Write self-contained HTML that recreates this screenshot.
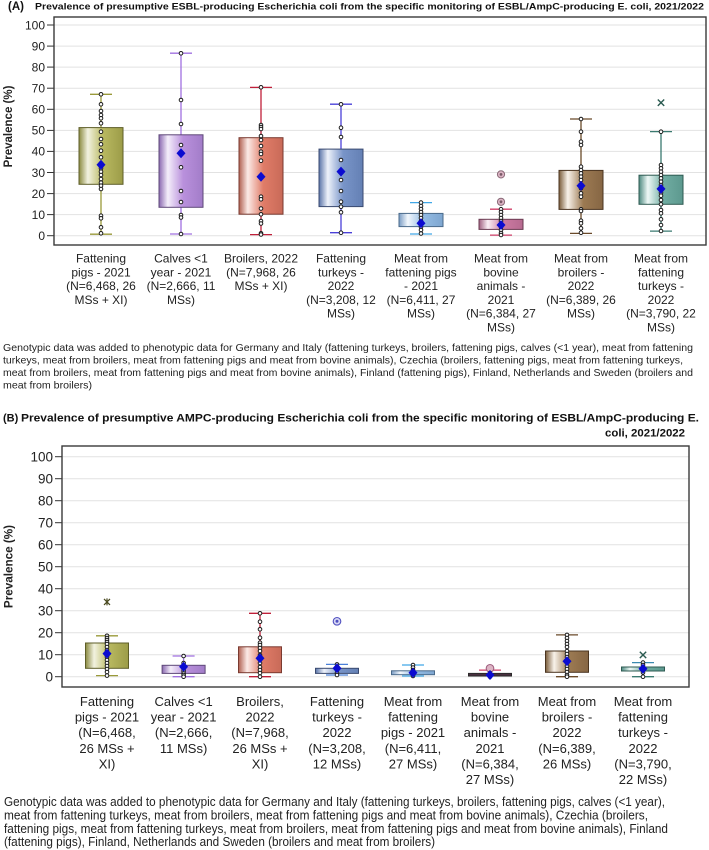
<!DOCTYPE html>
<html><head><meta charset="utf-8"><style>
html,body{margin:0;padding:0;background:#fff;}
svg{display:block;font-family:"Liberation Sans",Arial,sans-serif;}
.d circle{fill:#fff;stroke:#1a1a1a;stroke-width:1;}
.grid line{stroke:#e2e2e2;stroke-width:1;}
.tk line{stroke:#333;stroke-width:1;}
</style></head><body>
<svg width="709" height="850" viewBox="0 0 709 850" xmlns="http://www.w3.org/2000/svg">
<defs>
<linearGradient id="g1" x1="0" x2="1" y1="0" y2="0"><stop offset="0" stop-color="#8a8a40"/><stop offset="0.2" stop-color="#f2f2e0"/><stop offset="0.55" stop-color="#b8b860"/><stop offset="1" stop-color="#9c9c48"/></linearGradient>
<linearGradient id="g2" x1="0" x2="1" y1="0" y2="0"><stop offset="0" stop-color="#8a68b0"/><stop offset="0.2" stop-color="#f4eefa"/><stop offset="0.55" stop-color="#b990dc"/><stop offset="1" stop-color="#a27cc8"/></linearGradient>
<linearGradient id="g3" x1="0" x2="1" y1="0" y2="0"><stop offset="0" stop-color="#b06050"/><stop offset="0.2" stop-color="#fbeae6"/><stop offset="0.55" stop-color="#e07c68"/><stop offset="1" stop-color="#c86a58"/></linearGradient>
<linearGradient id="g4" x1="0" x2="1" y1="0" y2="0"><stop offset="0" stop-color="#5a74a8"/><stop offset="0.2" stop-color="#eef2fa"/><stop offset="0.55" stop-color="#7894c8"/><stop offset="1" stop-color="#6480b4"/></linearGradient>
<linearGradient id="g5" x1="0" x2="1" y1="0" y2="0"><stop offset="0" stop-color="#7a9cc4"/><stop offset="0.2" stop-color="#f2f7fc"/><stop offset="0.55" stop-color="#94bce4"/><stop offset="1" stop-color="#7ea6d0"/></linearGradient>
<linearGradient id="g6" x1="0" x2="1" y1="0" y2="0"><stop offset="0" stop-color="#a06080"/><stop offset="0.2" stop-color="#faeef4"/><stop offset="0.55" stop-color="#cc7aa2"/><stop offset="1" stop-color="#b66a90"/></linearGradient>
<linearGradient id="g7" x1="0" x2="1" y1="0" y2="0"><stop offset="0" stop-color="#7a5c3a"/><stop offset="0.2" stop-color="#f8f2ea"/><stop offset="0.55" stop-color="#9c7a52"/><stop offset="1" stop-color="#866644"/></linearGradient>
<linearGradient id="g8" x1="0" x2="1" y1="0" y2="0"><stop offset="0" stop-color="#4e8a80"/><stop offset="0.2" stop-color="#eef8f6"/><stop offset="0.55" stop-color="#70ada2"/><stop offset="1" stop-color="#5c988e"/></linearGradient>
</defs>

<!-- ================= PANEL A ================= -->
<text x="8" y="10" font-size="11.5" font-weight="bold" fill="#111">(A)</text>
<text x="35" y="9.5" font-size="9.5" font-weight="bold" fill="#111" textLength="669" lengthAdjust="spacingAndGlyphs">Prevalence of presumptive ESBL-producing Escherichia coli from the specific monitoring of ESBL/AmpC-producing E. coli, 2021/2022</text>

<g class="grid">
<line x1="54" x2="706" y1="235.7" y2="235.7"/><line x1="54" x2="706" y1="214.6" y2="214.6"/><line x1="54" x2="706" y1="193.6" y2="193.6"/><line x1="54" x2="706" y1="172.5" y2="172.5"/><line x1="54" x2="706" y1="151.4" y2="151.4"/><line x1="54" x2="706" y1="130.4" y2="130.4"/><line x1="54" x2="706" y1="109.3" y2="109.3"/><line x1="54" x2="706" y1="88.2" y2="88.2"/><line x1="54" x2="706" y1="67.1" y2="67.1"/><line x1="54" x2="706" y1="46.1" y2="46.1"/><line x1="54" x2="706" y1="25" y2="25"/>
</g>
<g class="tk">
<line x1="47" x2="54" y1="235.7" y2="235.7"/><line x1="47" x2="54" y1="214.6" y2="214.6"/><line x1="47" x2="54" y1="193.6" y2="193.6"/><line x1="47" x2="54" y1="172.5" y2="172.5"/><line x1="47" x2="54" y1="151.4" y2="151.4"/><line x1="47" x2="54" y1="130.4" y2="130.4"/><line x1="47" x2="54" y1="109.3" y2="109.3"/><line x1="47" x2="54" y1="88.2" y2="88.2"/><line x1="47" x2="54" y1="67.1" y2="67.1"/><line x1="47" x2="54" y1="46.1" y2="46.1"/><line x1="47" x2="54" y1="25" y2="25"/>
</g>
<g font-size="12" fill="#222" text-anchor="end">
<text x="45" y="240">0</text><text x="45" y="218.9">10</text><text x="45" y="197.9">20</text><text x="45" y="176.8">30</text><text x="45" y="155.7">40</text><text x="45" y="134.7">50</text><text x="45" y="113.6">60</text><text x="45" y="92.5">70</text><text x="45" y="71.4">80</text><text x="45" y="50.4">90</text><text x="45" y="29.3">100</text>
</g>
<text transform="translate(12,126.5) rotate(-90)" text-anchor="middle" font-size="11.5" font-weight="bold" fill="#222">Prevalence (%)</text>

<!-- A box 1 -->
<line x1="101" x2="101" y1="94.3" y2="234.2" stroke="#9a9a3a" stroke-width="1.3"/>
<line x1="90" x2="112" y1="94.3" y2="94.3" stroke="#9a9a3a" stroke-width="1.3"/>
<line x1="90" x2="112" y1="234.2" y2="234.2" stroke="#9a9a3a" stroke-width="1.3"/>
<rect x="79" y="127.6" width="44" height="56.7" fill="url(#g1)" stroke="#5e5e28" stroke-width="1"/>
<g class="d"><circle cx="101" cy="94.3" r="1.8"/><circle cx="101" cy="104.3" r="1.8"/><circle cx="101" cy="111" r="1.8"/><circle cx="101" cy="115" r="1.8"/><circle cx="101" cy="118.3" r="1.8"/><circle cx="101" cy="123.3" r="1.8"/><circle cx="101" cy="131.7" r="1.8"/><circle cx="101" cy="139" r="1.8"/><circle cx="101" cy="144.3" r="1.8"/><circle cx="101" cy="150.7" r="1.8"/><circle cx="101" cy="157.3" r="1.8"/><circle cx="101" cy="163.3" r="1.8"/><circle cx="101" cy="168.3" r="1.8"/><circle cx="101" cy="171.7" r="1.8"/><circle cx="101" cy="175" r="1.8"/><circle cx="101" cy="179" r="1.8"/><circle cx="101" cy="182.7" r="1.8"/><circle cx="101" cy="185.7" r="1.8"/><circle cx="101" cy="189" r="1.8"/><circle cx="101" cy="215.7" r="1.8"/><circle cx="101" cy="218.3" r="1.8"/><circle cx="101" cy="227.3" r="1.8"/><circle cx="101" cy="233.3" r="1.8"/></g>
<polygon points="101,159.7 105.5,164.7 101,169.7 96.5,164.7" fill="#0b0bd0"/>

<!-- A box 2 -->
<line x1="181" x2="181" y1="53.2" y2="234" stroke="#a070e0" stroke-width="1.3"/>
<line x1="170" x2="192" y1="53.2" y2="53.2" stroke="#a070e0" stroke-width="1.3"/>
<line x1="170" x2="192" y1="234" y2="234" stroke="#a070e0" stroke-width="1.3"/>
<rect x="159" y="134.8" width="44" height="72.5" fill="url(#g2)" stroke="#5e4878" stroke-width="1"/>
<g class="d"><circle cx="181" cy="53.3" r="1.8"/><circle cx="181" cy="100" r="1.8"/><circle cx="181" cy="124" r="1.8"/><circle cx="181" cy="145" r="1.8"/><circle cx="181" cy="167.3" r="1.8"/><circle cx="181" cy="191" r="1.8"/><circle cx="181" cy="202" r="1.8"/><circle cx="181" cy="215" r="1.8"/><circle cx="181" cy="217.5" r="1.8"/><circle cx="181" cy="234" r="1.8"/></g>
<polygon points="181,148.3 185.5,153.3 181,158.3 176.5,153.3" fill="#0b0bd0"/>

<!-- A box 3 -->
<line x1="261" x2="261" y1="87.4" y2="234.6" stroke="#c0203a" stroke-width="1.3"/>
<line x1="250" x2="272" y1="87.4" y2="87.4" stroke="#c0203a" stroke-width="1.3"/>
<line x1="250" x2="272" y1="234.6" y2="234.6" stroke="#c0203a" stroke-width="1.3"/>
<rect x="239" y="137.7" width="44" height="76.5" fill="url(#g3)" stroke="#7a3a30" stroke-width="1"/>
<g class="d"><circle cx="261" cy="87.3" r="1.8"/><circle cx="261" cy="125" r="1.8"/><circle cx="261" cy="127" r="1.8"/><circle cx="261" cy="129" r="1.8"/><circle cx="261" cy="136" r="1.8"/><circle cx="261" cy="140" r="1.8"/><circle cx="261" cy="146" r="1.8"/><circle cx="261" cy="151.7" r="1.8"/><circle cx="261" cy="154" r="1.8"/><circle cx="261" cy="160.7" r="1.8"/><circle cx="261" cy="196.7" r="1.8"/><circle cx="261" cy="199.3" r="1.8"/><circle cx="261" cy="208.5" r="1.8"/><circle cx="261" cy="214.3" r="1.8"/><circle cx="261" cy="221" r="1.8"/><circle cx="261" cy="223.5" r="1.8"/><circle cx="261" cy="233.3" r="1.8"/><circle cx="261" cy="234.5" r="1.8"/></g>
<polygon points="261,171.7 265.5,176.7 261,181.7 256.5,176.7" fill="#0b0bd0"/>

<!-- A box 4 -->
<line x1="341" x2="341" y1="104.2" y2="232.7" stroke="#4a40d8" stroke-width="1.3"/>
<line x1="330" x2="352" y1="104.2" y2="104.2" stroke="#4a40d8" stroke-width="1.3"/>
<line x1="330" x2="352" y1="232.7" y2="232.7" stroke="#4a40d8" stroke-width="1.3"/>
<rect x="319" y="149.1" width="44" height="57.5" fill="url(#g4)" stroke="#3a4a70" stroke-width="1"/>
<g class="d"><circle cx="341" cy="104.3" r="1.8"/><circle cx="341" cy="127.7" r="1.8"/><circle cx="341" cy="137" r="1.8"/><circle cx="341" cy="160" r="1.8"/><circle cx="341" cy="180" r="1.8"/><circle cx="341" cy="191" r="1.8"/><circle cx="341" cy="201.7" r="1.8"/><circle cx="341" cy="206.7" r="1.8"/><circle cx="341" cy="212.3" r="1.8"/><circle cx="341" cy="232.7" r="1.8"/></g>
<polygon points="341,166.6 345.5,171.6 341,176.6 336.5,171.6" fill="#0b0bd0"/>

<!-- A box 5 -->
<line x1="421" x2="421" y1="202.6" y2="234" stroke="#40a8e8" stroke-width="1.3"/>
<line x1="410" x2="432" y1="202.6" y2="202.6" stroke="#40a8e8" stroke-width="1.3"/>
<line x1="410" x2="432" y1="234" y2="234" stroke="#40a8e8" stroke-width="1.3"/>
<rect x="399" y="213.4" width="44" height="13.2" fill="url(#g5)" stroke="#4a6a8a" stroke-width="1"/>
<g class="d"><circle cx="421" cy="202.6" r="1.8"/><circle cx="421" cy="206" r="1.8"/><circle cx="421" cy="209" r="1.8"/><circle cx="421" cy="212" r="1.8"/><circle cx="421" cy="215" r="1.8"/><circle cx="421" cy="218" r="1.8"/><circle cx="421" cy="221" r="1.8"/><circle cx="421" cy="224" r="1.8"/><circle cx="421" cy="227" r="1.8"/><circle cx="421" cy="230" r="1.8"/><circle cx="421" cy="233.5" r="1.8"/></g>
<polygon points="421,218.3 425.5,223.3 421,228.3 416.5,223.3" fill="#0b0bd0"/>

<!-- A box 6 -->
<line x1="501" x2="501" y1="209.2" y2="235.1" stroke="#d0406a" stroke-width="1.3"/>
<line x1="490" x2="512" y1="209.2" y2="209.2" stroke="#d0406a" stroke-width="1.3"/>
<line x1="490" x2="512" y1="235.1" y2="235.1" stroke="#d0406a" stroke-width="1.3"/>
<rect x="479" y="219.3" width="44" height="10.1" fill="url(#g6)" stroke="#6a3a50" stroke-width="1"/>
<g class="d"><circle cx="501" cy="209.2" r="1.8"/><circle cx="501" cy="212" r="1.8"/><circle cx="501" cy="215" r="1.8"/><circle cx="501" cy="218" r="1.8"/><circle cx="501" cy="221" r="1.8"/><circle cx="501" cy="224" r="1.8"/><circle cx="501" cy="227" r="1.8"/><circle cx="501" cy="230" r="1.8"/><circle cx="501" cy="233" r="1.8"/><circle cx="501" cy="235" r="1.8"/></g>
<circle cx="501" cy="201.8" r="3.6" fill="#dcb4c4" stroke="#8a6a78" stroke-width="1"/><circle cx="501" cy="201.8" r="1.4" fill="#7a5a68"/>
<circle cx="501" cy="174.4" r="3.6" fill="#dcb4c4" stroke="#8a6a78" stroke-width="1"/><circle cx="501" cy="174.4" r="1.4" fill="#7a5a68"/>
<polygon points="501,220 505.5,225 501,230 496.5,225" fill="#0b0bd0"/>

<!-- A box 7 -->
<line x1="581" x2="581" y1="119" y2="233.4" stroke="#6a4a2a" stroke-width="1.3"/>
<line x1="570" x2="592" y1="119" y2="119" stroke="#6a4a2a" stroke-width="1.3"/>
<line x1="570" x2="592" y1="233.4" y2="233.4" stroke="#6a4a2a" stroke-width="1.3"/>
<rect x="559" y="170.4" width="44" height="39" fill="url(#g7)" stroke="#4a3420" stroke-width="1"/>
<g class="d"><circle cx="581" cy="119" r="1.8"/><circle cx="581" cy="131.7" r="1.8"/><circle cx="581" cy="141.7" r="1.8"/><circle cx="581" cy="145" r="1.8"/><circle cx="581" cy="166.7" r="1.8"/><circle cx="581" cy="170" r="1.8"/><circle cx="581" cy="173.3" r="1.8"/><circle cx="581" cy="176.7" r="1.8"/><circle cx="581" cy="180" r="1.8"/><circle cx="581" cy="185" r="1.8"/><circle cx="581" cy="188.3" r="1.8"/><circle cx="581" cy="193.3" r="1.8"/><circle cx="581" cy="196.7" r="1.8"/><circle cx="581" cy="209.3" r="1.8"/><circle cx="581" cy="211" r="1.8"/><circle cx="581" cy="220.7" r="1.8"/><circle cx="581" cy="223.3" r="1.8"/><circle cx="581" cy="228.3" r="1.8"/><circle cx="581" cy="232.7" r="1.8"/></g>
<polygon points="581,180.8 585.5,185.8 581,190.8 576.5,185.8" fill="#0b0bd0"/>

<!-- A box 8 -->
<line x1="661" x2="661" y1="131.6" y2="231.1" stroke="#3a7a70" stroke-width="1.3"/>
<line x1="650" x2="672" y1="131.6" y2="131.6" stroke="#3a7a70" stroke-width="1.3"/>
<line x1="650" x2="672" y1="231.1" y2="231.1" stroke="#3a7a70" stroke-width="1.3"/>
<rect x="639" y="175.2" width="44" height="29.1" fill="url(#g8)" stroke="#2e5a52" stroke-width="1"/>
<g class="d"><circle cx="661" cy="131.7" r="1.8"/><circle cx="661" cy="165" r="1.8"/><circle cx="661" cy="168.3" r="1.8"/><circle cx="661" cy="171.7" r="1.8"/><circle cx="661" cy="175" r="1.8"/><circle cx="661" cy="178.3" r="1.8"/><circle cx="661" cy="181.7" r="1.8"/><circle cx="661" cy="185" r="1.8"/><circle cx="661" cy="192.7" r="1.8"/><circle cx="661" cy="195.7" r="1.8"/><circle cx="661" cy="200" r="1.8"/><circle cx="661" cy="204.3" r="1.8"/><circle cx="661" cy="210" r="1.8"/><circle cx="661" cy="213.3" r="1.8"/><circle cx="661" cy="219.3" r="1.8"/><circle cx="661" cy="225" r="1.8"/><circle cx="661" cy="231" r="1.8"/></g>
<path d="M657.8 99.5 L664.2 105.9 M664.2 99.5 L657.8 105.9" stroke="#2a5a50" stroke-width="1.4"/>
<polygon points="661,183.9 665.5,188.9 661,193.9 656.5,188.9" fill="#0b0bd0"/>

<rect x="54" y="17" width="652" height="228" fill="none" stroke="#3a3a3a" stroke-width="1.4"/>

<!-- A x labels -->
<g font-size="12" fill="#222" text-anchor="middle">
<text x="101" y="262.5">Fattening</text><text x="101" y="276.3">pigs - 2021</text><text x="101" y="290.1">(N=6,468, 26</text><text x="101" y="303.9">MSs + XI)</text>
<text x="181" y="262.5">Calves &lt;1</text><text x="181" y="276.3">year - 2021</text><text x="181" y="290.1">(N=2,666, 11</text><text x="181" y="303.9">MSs)</text>
<text x="261" y="262.5">Broilers, 2022</text><text x="261" y="276.3">(N=7,968, 26</text><text x="261" y="290.1">MSs + XI)</text>
<text x="341" y="262.5">Fattening</text><text x="341" y="276.3">turkeys -</text><text x="341" y="290.1">2022</text><text x="341" y="303.9">(N=3,208, 12</text><text x="341" y="317.7">MSs)</text>
<text x="421" y="262.5">Meat from</text><text x="421" y="276.3">fattening pigs</text><text x="421" y="290.1">- 2021</text><text x="421" y="303.9">(N=6,411, 27</text><text x="421" y="317.7">MSs)</text>
<text x="501" y="262.5">Meat from</text><text x="501" y="276.3">bovine</text><text x="501" y="290.1">animals -</text><text x="501" y="303.9">2021</text><text x="501" y="317.7">(N=6,384, 27</text><text x="501" y="331.5">MSs)</text>
<text x="581" y="262.5">Meat from</text><text x="581" y="276.3">broilers -</text><text x="581" y="290.1">2022</text><text x="581" y="303.9">(N=6,389, 26</text><text x="581" y="317.7">MSs)</text>
<text x="661" y="262.5">Meat from</text><text x="661" y="276.3">fattening</text><text x="661" y="290.1">turkeys -</text><text x="661" y="303.9">2022</text><text x="661" y="317.7">(N=3,790, 22</text><text x="661" y="331.5">MSs)</text>
</g>

<g font-size="10.2" fill="#222">
<text x="3" y="351" textLength="690" lengthAdjust="spacingAndGlyphs">Genotypic data was added to phenotypic data for Germany and Italy (fattening turkeys, broilers, fattening pigs, calves (&lt;1 year), meat from fattening</text>
<text x="3" y="363.6" textLength="680" lengthAdjust="spacingAndGlyphs">turkeys, meat from broilers,  meat from fattening pigs and meat from bovine animals), Czechia (broilers, fattening pigs, meat from fattening turkeys,</text>
<text x="3" y="376" textLength="690" lengthAdjust="spacingAndGlyphs">meat from broilers, meat from fattening pigs and meat from bovine animals), Finland (fattening pigs), Finland, Netherlands and Sweden (broilers and</text>
<text x="3" y="388.5" textLength="89" lengthAdjust="spacingAndGlyphs">meat from broilers)</text>
</g>

<!-- ================= PANEL B ================= -->
<text x="3" y="421.5" font-size="11" font-weight="bold" fill="#111">(B)</text>
<text x="21" y="421.5" font-size="11" font-weight="bold" fill="#111" textLength="678" lengthAdjust="spacingAndGlyphs">Prevalence of presumptive AMPC-producing Escherichia coli from the specific monitoring of ESBL/AmpC-producing E.</text>
<text x="605" y="436.5" font-size="11" font-weight="bold" fill="#111" textLength="80" lengthAdjust="spacingAndGlyphs">coli, 2021/2022</text>

<g class="grid">
<line x1="62" x2="689" y1="676.7" y2="676.7"/><line x1="62" x2="689" y1="654.7" y2="654.7"/><line x1="62" x2="689" y1="632.7" y2="632.7"/><line x1="62" x2="689" y1="610.7" y2="610.7"/><line x1="62" x2="689" y1="588.7" y2="588.7"/><line x1="62" x2="689" y1="566.7" y2="566.7"/><line x1="62" x2="689" y1="544.7" y2="544.7"/><line x1="62" x2="689" y1="522.7" y2="522.7"/><line x1="62" x2="689" y1="500.7" y2="500.7"/><line x1="62" x2="689" y1="478.7" y2="478.7"/><line x1="62" x2="689" y1="456.7" y2="456.7"/>
</g>
<g class="tk">
<line x1="55" x2="62" y1="676.7" y2="676.7"/><line x1="55" x2="62" y1="654.7" y2="654.7"/><line x1="55" x2="62" y1="632.7" y2="632.7"/><line x1="55" x2="62" y1="610.7" y2="610.7"/><line x1="55" x2="62" y1="588.7" y2="588.7"/><line x1="55" x2="62" y1="566.7" y2="566.7"/><line x1="55" x2="62" y1="544.7" y2="544.7"/><line x1="55" x2="62" y1="522.7" y2="522.7"/><line x1="55" x2="62" y1="500.7" y2="500.7"/><line x1="55" x2="62" y1="478.7" y2="478.7"/><line x1="55" x2="62" y1="456.7" y2="456.7"/>
</g>
<g font-size="13.5" fill="#222" text-anchor="end">
<text x="53" y="681.5">0</text><text x="53" y="659.5">10</text><text x="53" y="637.5">20</text><text x="53" y="615.5">30</text><text x="53" y="593.5">40</text><text x="53" y="571.5">50</text><text x="53" y="549.5">60</text><text x="53" y="527.5">70</text><text x="53" y="505.5">80</text><text x="53" y="483.5">90</text><text x="53" y="461.5">100</text>
</g>
<text transform="translate(12.5,566.5) rotate(-90)" text-anchor="middle" font-size="11.7" font-weight="bold" fill="#222">Prevalence (%)</text>

<!-- B box 1 -->
<line x1="107" x2="107" y1="635.8" y2="675.6" stroke="#9a9a3a" stroke-width="1.3"/>
<line x1="96" x2="118" y1="635.8" y2="635.8" stroke="#9a9a3a" stroke-width="1.3"/>
<line x1="96" x2="118" y1="675.6" y2="675.6" stroke="#9a9a3a" stroke-width="1.3"/>
<rect x="85.5" y="643" width="43" height="25.3" fill="url(#g1)" stroke="#5e5e28" stroke-width="1"/>
<g class="d"><circle cx="107" cy="635.8" r="1.8"/><circle cx="107" cy="638" r="1.8"/><circle cx="107" cy="640" r="1.8"/><circle cx="107" cy="642" r="1.8"/><circle cx="107" cy="644" r="1.8"/><circle cx="107" cy="647" r="1.8"/><circle cx="107" cy="650" r="1.8"/><circle cx="107" cy="657" r="1.8"/><circle cx="107" cy="660" r="1.8"/><circle cx="107" cy="663" r="1.8"/><circle cx="107" cy="666" r="1.8"/><circle cx="107" cy="669" r="1.8"/><circle cx="107" cy="672" r="1.8"/><circle cx="107" cy="675.6" r="1.8"/></g>
<path d="M104 598.9 L110 604.9 M110 598.9 L104 604.9 M107 598.4 L107 605.4" stroke="#4a4a20" stroke-width="1.2"/>
<polygon points="107,648.6 111.5,653.6 107,658.6 102.5,653.6" fill="#0b0bd0"/>

<!-- B box 2 -->
<line x1="183.6" x2="183.6" y1="656" y2="676.7" stroke="#a070e0" stroke-width="1.3"/>
<line x1="172.6" x2="194.6" y1="656" y2="656" stroke="#a070e0" stroke-width="1.3"/>
<line x1="172.6" x2="194.6" y1="676.7" y2="676.7" stroke="#a070e0" stroke-width="1.3"/>
<rect x="162.1" y="665.3" width="43" height="8.1" fill="url(#g2)" stroke="#5e4878" stroke-width="1"/>
<g class="d"><circle cx="183.6" cy="656" r="1.8"/><circle cx="183.6" cy="663" r="1.8"/><circle cx="183.6" cy="669" r="1.8"/><circle cx="183.6" cy="671" r="1.8"/><circle cx="183.6" cy="673.4" r="1.8"/><circle cx="183.6" cy="675" r="1.8"/><circle cx="183.6" cy="676.7" r="1.8"/></g>
<polygon points="183.6,661.8 188.1,666.8 183.6,671.8 179.1,666.8" fill="#0b0bd0"/>

<!-- B box 3 -->
<line x1="260" x2="260" y1="613.3" y2="676.7" stroke="#c0203a" stroke-width="1.3"/>
<line x1="249" x2="271" y1="613.3" y2="613.3" stroke="#c0203a" stroke-width="1.3"/>
<line x1="249" x2="271" y1="676.7" y2="676.7" stroke="#c0203a" stroke-width="1.3"/>
<rect x="238.5" y="646.8" width="43" height="25.9" fill="url(#g3)" stroke="#7a3a30" stroke-width="1"/>
<g class="d"><circle cx="260" cy="613.3" r="1.8"/><circle cx="260" cy="621.7" r="1.8"/><circle cx="260" cy="629.3" r="1.8"/><circle cx="260" cy="637.7" r="1.8"/><circle cx="260" cy="642.7" r="1.8"/><circle cx="260" cy="645" r="1.8"/><circle cx="260" cy="648" r="1.8"/><circle cx="260" cy="651" r="1.8"/><circle cx="260" cy="655" r="1.8"/><circle cx="260" cy="663" r="1.8"/><circle cx="260" cy="667" r="1.8"/><circle cx="260" cy="670" r="1.8"/><circle cx="260" cy="673" r="1.8"/><circle cx="260" cy="676.7" r="1.8"/></g>
<polygon points="260,653.2 264.5,658.2 260,663.2 255.5,658.2" fill="#0b0bd0"/>

<!-- B box 4 -->
<line x1="337" x2="337" y1="664.4" y2="675" stroke="#4a80d8" stroke-width="1.3"/>
<line x1="326" x2="348" y1="664.4" y2="664.4" stroke="#4a80d8" stroke-width="1.3"/>
<line x1="326" x2="348" y1="675" y2="675" stroke="#4a80d8" stroke-width="1.3"/>
<rect x="315.5" y="668.3" width="43" height="5.1" fill="url(#g4)" stroke="#3a4a70" stroke-width="1"/>
<g class="d"><circle cx="337" cy="664.4" r="1.8"/><circle cx="337" cy="670" r="1.8"/><circle cx="337" cy="673" r="1.8"/><circle cx="337" cy="675" r="1.8"/></g>
<circle cx="337" cy="621.3" r="3.8" fill="#d8d8f4" stroke="#5050c0" stroke-width="1.1"/><circle cx="337" cy="621.3" r="1.5" fill="#5050c0"/>
<polygon points="337,663.3 341.5,668.3 337,673.3 332.5,668.3" fill="#0b0bd0"/>

<!-- B box 5 -->
<line x1="413" x2="413" y1="665" y2="676" stroke="#40a8e8" stroke-width="1.3"/>
<line x1="402" x2="424" y1="665" y2="665" stroke="#40a8e8" stroke-width="1.3"/>
<line x1="402" x2="424" y1="676" y2="676" stroke="#40a8e8" stroke-width="1.3"/>
<rect x="391.5" y="670.8" width="43" height="3.9" fill="url(#g5)" stroke="#4a6a8a" stroke-width="1"/>
<g class="d"><circle cx="413" cy="665" r="1.8"/><circle cx="413" cy="667.5" r="1.8"/><circle cx="413" cy="670" r="1.8"/><circle cx="413" cy="675" r="1.8"/><circle cx="413" cy="676" r="1.8"/></g>
<polygon points="413,667.7 417.5,672.7 413,677.7 408.5,672.7" fill="#0b0bd0"/>

<!-- B box 6 -->
<line x1="490" x2="490" y1="670.1" y2="676.7" stroke="#d0406a" stroke-width="1.3"/>
<line x1="479" x2="501" y1="670.1" y2="670.1" stroke="#d0406a" stroke-width="1.3"/>
<rect x="468.5" y="673.4" width="43" height="2.6" fill="#4a3040" stroke="#2a2a2a" stroke-width="1"/>
<circle cx="490" cy="668.3" r="3.8" fill="#dcb4c4" stroke="#a06080" stroke-width="1.1"/>
<g class="d"><circle cx="490" cy="673" r="1.8"/><circle cx="490" cy="676.7" r="1.8"/></g>
<polygon points="490,670 494.5,675 490,680 485.5,675" fill="#0b0bd0"/>

<!-- B box 7 -->
<line x1="567" x2="567" y1="634.9" y2="676.7" stroke="#6a4a2a" stroke-width="1.3"/>
<line x1="556" x2="578" y1="634.9" y2="634.9" stroke="#6a4a2a" stroke-width="1.3"/>
<line x1="556" x2="578" y1="676.7" y2="676.7" stroke="#6a4a2a" stroke-width="1.3"/>
<rect x="545.5" y="651" width="43" height="21.3" fill="url(#g7)" stroke="#4a3420" stroke-width="1"/>
<g class="d"><circle cx="567" cy="634.9" r="1.8"/><circle cx="567" cy="638" r="1.8"/><circle cx="567" cy="641" r="1.8"/><circle cx="567" cy="644" r="1.8"/><circle cx="567" cy="647" r="1.8"/><circle cx="567" cy="651" r="1.8"/><circle cx="567" cy="654" r="1.8"/><circle cx="567" cy="657" r="1.8"/><circle cx="567" cy="666" r="1.8"/><circle cx="567" cy="669" r="1.8"/><circle cx="567" cy="672" r="1.8"/><circle cx="567" cy="675" r="1.8"/><circle cx="567" cy="676.7" r="1.8"/></g>
<polygon points="567,656.3 571.5,661.3 567,666.3 562.5,661.3" fill="#0b0bd0"/>

<!-- B box 8 -->
<line x1="643" x2="643" y1="662.6" y2="676.7" stroke="#3a7a70" stroke-width="1.3"/>
<line x1="632" x2="654" y1="662.6" y2="662.6" stroke="#3a8ab0" stroke-width="1.3"/>
<line x1="632" x2="654" y1="676.7" y2="676.7" stroke="#3a7a70" stroke-width="1.3"/>
<rect x="621.5" y="667" width="43" height="4" fill="url(#g8)" stroke="#2e5a52" stroke-width="1"/>
<g class="d"><circle cx="643" cy="662.6" r="1.8"/><circle cx="643" cy="665" r="1.8"/><circle cx="643" cy="672.5" r="1.8"/><circle cx="643" cy="676.7" r="1.8"/></g>
<path d="M639.8 651.7 L646.2 658.1 M646.2 651.7 L639.8 658.1" stroke="#2a5a50" stroke-width="1.4"/>
<polygon points="643,663.8 647.5,668.8 643,673.8 638.5,668.8" fill="#0b0bd0"/>

<rect x="62" y="446" width="627" height="241" fill="none" stroke="#3a3a3a" stroke-width="1.4"/>

<!-- B x labels -->
<g font-size="13" fill="#222" text-anchor="middle">
<text x="107" y="706">Fattening</text><text x="107" y="721.6">pigs - 2021</text><text x="107" y="737.2">(N=6,468,</text><text x="107" y="752.8">26 MSs +</text><text x="107" y="768.4">XI)</text>
<text x="183.6" y="706">Calves &lt;1</text><text x="183.6" y="721.6">year - 2021</text><text x="183.6" y="737.2">(N=2,666,</text><text x="183.6" y="752.8">11 MSs)</text>
<text x="260" y="706">Broilers,</text><text x="260" y="721.6">2022</text><text x="260" y="737.2">(N=7,968,</text><text x="260" y="752.8">26 MSs +</text><text x="260" y="768.4">XI)</text>
<text x="337" y="706">Fattening</text><text x="337" y="721.6">turkeys -</text><text x="337" y="737.2">2022</text><text x="337" y="752.8">(N=3,208,</text><text x="337" y="768.4">12 MSs)</text>
<text x="413" y="706">Meat from</text><text x="413" y="721.6">fattening</text><text x="413" y="737.2">pigs - 2021</text><text x="413" y="752.8">(N=6,411,</text><text x="413" y="768.4">27 MSs)</text>
<text x="490" y="706">Meat from</text><text x="490" y="721.6">bovine</text><text x="490" y="737.2">animals -</text><text x="490" y="752.8">2021</text><text x="490" y="768.4">(N=6,384,</text><text x="490" y="784">27 MSs)</text>
<text x="567" y="706">Meat from</text><text x="567" y="721.6">broilers -</text><text x="567" y="737.2">2022</text><text x="567" y="752.8">(N=6,389,</text><text x="567" y="768.4">26 MSs)</text>
<text x="643" y="706">Meat from</text><text x="643" y="721.6">fattening</text><text x="643" y="737.2">turkeys -</text><text x="643" y="752.8">2022</text><text x="643" y="768.4">(N=3,790,</text><text x="643" y="784">22 MSs)</text>
</g>

<g font-size="12.6" fill="#222">
<text x="4" y="806" textLength="661" lengthAdjust="spacingAndGlyphs">Genotypic data was added to phenotypic data for Germany and Italy (fattening turkeys, broilers, fattening pigs, calves (&lt;1 year),</text>
<text x="4" y="819.5" textLength="644" lengthAdjust="spacingAndGlyphs">meat from fattening turkeys, meat from broilers,  meat from fattening pigs and meat from bovine animals), Czechia (broilers,</text>
<text x="4" y="833" textLength="664" lengthAdjust="spacingAndGlyphs">fattening pigs, meat from fattening turkeys, meat from broilers, meat from fattening pigs and meat from bovine animals), Finland</text>
<text x="4" y="846" textLength="431" lengthAdjust="spacingAndGlyphs">(fattening pigs), Finland, Netherlands and Sweden (broilers and meat from broilers)</text>
</g>
</svg>
</body></html>
